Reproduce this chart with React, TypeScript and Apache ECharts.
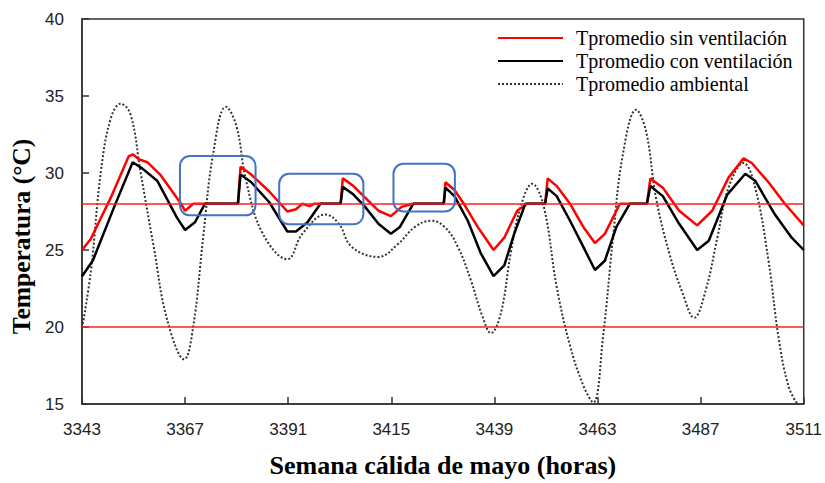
import React, { useEffect, useRef } from "react";
import * as echarts from "echarts";

const xTicks = { min: 3343, max: 3511, interval: 24 };
const yTicks = { min: 15, max: 40, interval: 5 };

const seriesNames = [
  "Tpromedio sin ventilación",
  "Tpromedio con ventilación",
  "Tpromedio ambiental",
];

// [hour, temperature]
const sinVentilacion: [number, number][] = [
  [3343, 25.0], [3345, 25.7], [3349.7, 28.4], [3353.9, 31.1], [3354.9, 31.2], [3356.2, 30.9],
  [3358.2, 30.7], [3361.2, 29.9], [3365.8, 28.1], [3367, 27.55], [3368.9, 28.0], [3379.3, 28.0],
  [3379.9, 30.4], [3382.4, 29.9], [3386.6, 28.8], [3390.8, 27.5], [3392.8, 27.65], [3394.3, 28.0],
  [3396, 27.85], [3397, 28.0], [3403.2, 28.0], [3403.7, 29.65], [3406.2, 29.15], [3408.9, 28.4],
  [3412, 27.55], [3414.9, 27.2], [3417.4, 27.8], [3420.1, 28.0], [3427.2, 28.0], [3427.6, 29.4],
  [3429.7, 28.9], [3432, 27.95], [3435.1, 26.5], [3438.8, 25.0], [3441.3, 25.8], [3444.3, 27.55],
  [3446.6, 28.0], [3450.8, 28.0], [3451.4, 29.65], [3453.5, 29.15], [3456.6, 28.0], [3459.7, 26.5],
  [3462.4, 25.45], [3464.7, 26.05], [3468.2, 28.0], [3474.5, 28.0], [3475.3, 29.65], [3478.2, 29.05],
  [3482, 27.55], [3486.2, 26.6], [3489.7, 27.55], [3493.5, 29.7], [3497, 30.95], [3498.9, 30.65],
  [3502.8, 29.4], [3506.6, 28.0], [3511, 26.6],
];

const conVentilacion: [number, number][] = [
  [3343, 23.3], [3345.5, 24.3], [3350.5, 27.8], [3354.8, 30.7], [3357, 30.3], [3360.5, 29.5],
  [3365.1, 27.1], [3367, 26.3], [3369.3, 26.8], [3371.6, 28.0], [3379.3, 28.0], [3379.9, 29.9],
  [3382.4, 29.4], [3386.6, 28.1], [3390.8, 26.2], [3392.8, 26.2], [3395.5, 26.8], [3398.5, 28.0],
  [3403.2, 28.0], [3403.7, 29.1], [3406.2, 28.6], [3408.9, 27.8], [3412, 26.7], [3414.9, 26.05],
  [3417, 26.5], [3420.1, 28.0], [3427.2, 28.0], [3427.6, 29.05], [3429.7, 28.5], [3432.8, 26.9],
  [3435.8, 24.8], [3438.8, 23.3], [3441.3, 24.0], [3443.6, 26.05], [3446.2, 28.0], [3450.8, 28.0],
  [3451.4, 29.0], [3453.5, 28.5], [3456.6, 26.9], [3459.7, 25.2], [3462.4, 23.7], [3464.7, 24.3],
  [3467.4, 26.5], [3470.5, 28.0], [3474.5, 28.0], [3475.3, 29.15], [3478.2, 28.5], [3482, 26.7],
  [3486.2, 25.0], [3488.9, 25.6], [3493.2, 28.6], [3497.4, 29.95], [3499.7, 29.5], [3504.3, 27.3],
  [3508.2, 25.8], [3511, 25.0],
];

const ambiental: [number, number][] = [
  [3343.2, 20.2], [3345.1, 23.7], [3347.4, 30.1], [3349.7, 33.55], [3352, 34.5], [3354.3, 33.8],
  [3356.6, 30.1], [3359.7, 25.2], [3362.8, 20.5], [3366.8, 17.9], [3368.9, 20.05], [3371.2, 25.8],
  [3373.5, 31.2], [3376.5, 34.3], [3378.9, 33.1], [3381.2, 29.5], [3385.1, 26.05], [3390.8, 24.4],
  [3394.3, 26.05], [3399.7, 27.3], [3402.8, 26.7], [3405.8, 25.2], [3412, 24.55], [3416.6, 25.4],
  [3420.5, 26.5], [3424.3, 26.9], [3427.4, 26.5], [3430.5, 25.2], [3433.5, 23.05], [3436.2, 20.7],
  [3438.2, 19.6], [3440.5, 20.9], [3442.8, 24.8], [3445.1, 27.8], [3447.8, 29.3], [3450.5, 27.8],
  [3453.5, 22.6], [3456.6, 18.8], [3459.7, 16.2], [3462, 15.1], [3464.3, 19.4], [3466.6, 25.8],
  [3468.9, 31.2], [3472, 34.1], [3474.3, 32.7], [3476.6, 28.4], [3479.7, 24.8], [3482.8, 22.2],
  [3485.5, 20.6], [3488.2, 22.4], [3490.9, 25.8], [3493.5, 29.05], [3497, 30.65], [3499.7, 29.05],
  [3502.8, 24.3], [3505.1, 19.4], [3507.4, 16.2], [3509.5, 15.0],
];

const thresholds = [28, 20];

// annotation boxes in data coords: [x0, y0(top), x1, y1(bottom)]
const highlightBoxes: [number, number, number, number][] = [
  [3365.8, 31.1, 3383.4, 27.25],
  [3388.9, 29.95, 3408.5, 26.67],
  [3415.5, 30.6, 3429.8, 27.5],
];

export default function App() {
  const ref = useRef<HTMLDivElement>(null);
  useEffect(() => {
    if (!ref.current) return;
    document.body.style.margin = "0";
    const chart = echarts.init(ref.current, undefined, { renderer: "svg" });
    const serif = "'Liberation Serif', 'Times New Roman', serif";
    const sans = "'Liberation Sans', Arial, sans-serif";
    chart.setOption({
      animation: false,
      backgroundColor: "#ffffff",
      grid: {
        left: 81, right: 19, top: 19, bottom: 75,
        show: true, borderColor: "#333", borderWidth: 1.5,
      },
      legend: {
        orient: "vertical",
        left: 497,
        top: 27,
        padding: 0,
        itemWidth: 65,
        itemHeight: 12,
        itemGap: 1,
        itemStyle: { opacity: 0 },
        textStyle: {
          fontFamily: serif, fontSize: 20, lineHeight: 22, color: "#000", padding: [0, 0, 0, 8],
        },
        data: seriesNames,
      },
      xAxis: {
        type: "value",
        min: xTicks.min, max: xTicks.max, interval: xTicks.interval,
        name: "Semana cálida de mayo (horas)",
        nameLocation: "middle",
        nameGap: 48,
        nameTextStyle: { fontFamily: serif, fontSize: 26, fontWeight: "bold", color: "#000" },
        axisLine: { lineStyle: { color: "#333", width: 1.5 } },
        axisTick: { inside: true, length: 7, lineStyle: { color: "#333", width: 1.5 } },
        axisLabel: {
          fontFamily: sans, fontSize: 17, color: "#222", margin: 17,
          formatter: (v: number) => String(v),
        },
        splitLine: { show: false },
      },
      yAxis: {
        type: "value",
        min: yTicks.min, max: yTicks.max, interval: yTicks.interval,
        name: "Temperatura (°C)",
        nameLocation: "middle",
        nameGap: 48,
        nameTextStyle: {
          fontFamily: serif, fontSize: 25.5, fontWeight: "bold", color: "#000",
          padding: [0, 50, 0, 0],
        },
        axisLine: { show: true, lineStyle: { color: "#333", width: 1.5 } },
        axisTick: { show: true, inside: true, length: 7, lineStyle: { color: "#333", width: 1.5 } },
        axisLabel: { fontFamily: sans, fontSize: 17, color: "#222", margin: 18 },
        splitLine: { show: false },
      },
      series: [
        {
          name: seriesNames[0],
          type: "line",
          data: sinVentilacion,
          symbol: "none",
          lineStyle: { color: "#ff0000", width: 2.5 },
          itemStyle: { color: "#ff0000" },
          markLine: {
            silent: true,
            symbol: ["none", "none"],
            label: { show: false },
            lineStyle: { color: "#ff2020", width: 1.5, type: "solid" },
            data: thresholds.map((v) => ({ yAxis: v })),
          },
          z: 2,
        },
        {
          name: seriesNames[1],
          type: "line",
          data: conVentilacion,
          symbol: "none",
          lineStyle: { color: "#000000", width: 2.5 },
          itemStyle: { color: "#000000" },
          z: 3,
        },
        {
          name: seriesNames[2],
          type: "line",
          data: ambiental,
          symbol: "none",
          smooth: 0.4,
          lineStyle: { color: "#333", width: 2, type: [2, 2] },
          itemStyle: { color: "#333" },
          z: 1,
        },
      ],
    });
    const graphics = highlightBoxes.map(([x0, y0, x1, y1]) => {
      const p0 = chart.convertToPixel({ gridIndex: 0 }, [x0, y0]) as number[];
      const p1 = chart.convertToPixel({ gridIndex: 0 }, [x1, y1]) as number[];
      return {
        type: "rect",
        shape: { x: p0[0], y: p0[1], width: p1[0] - p0[0], height: p1[1] - p0[1], r: 10 },
        style: { fill: "none", stroke: "#4472C4", lineWidth: 2 },
        z: 10,
        silent: true,
      };
    });
    chart.setOption({ graphic: graphics });
    return () => chart.dispose();
  }, []);
  return <div ref={ref} style={{ width: 825, height: 483 }} />;
}
